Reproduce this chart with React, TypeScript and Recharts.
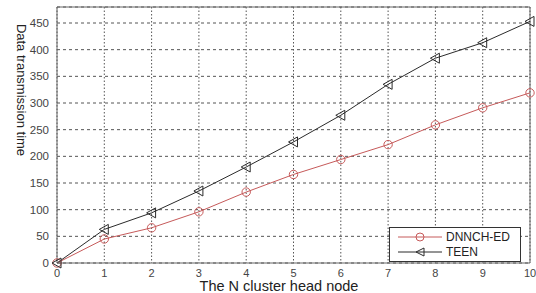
import { LineChart, Line, XAxis, YAxis, CartesianGrid, ReferenceLine } from 'recharts';

const nodes = [0, 1, 2, 3, 4, 5, 6, 7, 8, 9, 10];
const dnnchEd = [0, 45, 66, 96, 133, 166, 194, 222, 259, 291, 319];
const teen = [0, 63, 94, 135, 180, 227, 277, 335, 384, 413, 453];
const xTicks = [0, 1, 2, 3, 4, 5, 6, 7, 8, 9, 10];
const yTicks = [0, 50, 100, 150, 200, 250, 300, 350, 400, 450];

const RED = '#c65a5a';
const DARK = '#2b2b2b';
const FONT = '"Liberation Sans", Arial, sans-serif';

const data = nodes.map((n, i) => ({ n, dnnch: dnnchEd[i], teen: teen[i] }));

const CircleDot = (props: any) => {
  const { cx, cy } = props;
  if (cx == null || cy == null) return null;
  return <circle cx={cx} cy={cy} r={4.2} fill="none" stroke={RED} strokeWidth={1} />;
};

const TriDot = (props: any) => {
  const { cx, cy } = props;
  if (cx == null || cy == null) return null;
  const s = 5;
  return (
    <polygon
      points={`${cx - s},${cy} ${cx + s * 0.8},${cy - s} ${cx + s * 0.8},${cy + s}`}
      fill="none"
      stroke={DARK}
      strokeWidth={1}
    />
  );
};

// legend drawn as an overlay so it doesn't eat plot height
const LegendBox = () => (
  <div
    style={{
      position: 'absolute',
      left: 389,
      top: 227,
      width: 132,
      height: 35,
      border: '1px solid #333',
      background: '#fff',
      boxSizing: 'border-box',
    }}
  >
    <svg width={130} height={33} style={{ display: 'block' }}>
      <line x1={8} y1={9} x2={52} y2={9} stroke={RED} strokeWidth={1} />
      <circle cx={30} cy={9} r={4} fill="none" stroke={RED} />
      <text x={56} y={13} fontFamily={FONT} fontSize={12} fill="#222">DNNCH-ED</text>
      <line x1={8} y1={24} x2={52} y2={24} stroke={DARK} strokeWidth={1} />
      <polygon points="26,24 34,20 34,28" fill="none" stroke={DARK} />
      <text x={56} y={28} fontFamily={FONT} fontSize={12} fill="#222">TEEN</text>
    </svg>
  </div>
);

export default function App() {
  return (
    <div style={{ position: 'fixed', left: 0, top: 0, width: 536, height: 293, background: '#fff' }}>
      <LineChart width={536} height={293} data={data} margin={{ top: 7, right: 6, left: 0, bottom: 0 }}>
        <CartesianGrid horizontal={true} vertical={false} stroke="#555" strokeDasharray="3 3" />
        <CartesianGrid horizontal={false} vertical={true} stroke="#555" strokeDasharray="1.5 2" />
        <XAxis
          dataKey="n"
          type="number"
          domain={[0, 10]}
          ticks={xTicks}
          tickLine={false}
          axisLine={{ stroke: '#666' }}
          height={30}
          tickMargin={0}
          tick={{ fontFamily: FONT, fontSize: 11, fill: '#444' }}
          label={{
            content: () => (
              <text x={279} y={291} textAnchor="middle" fontFamily={FONT} fontSize={14.5} fill="#222">
                The N cluster head node
              </text>
            ),
          }}
        />
        <YAxis
          type="number"
          domain={[0, 480]}
          ticks={yTicks}
          tickLine={false}
          axisLine={{ stroke: '#666' }}
          width={57}
          tickMargin={2}
          tick={{ fontFamily: FONT, fontSize: 11.5, fill: '#444' }}
          label={{
            content: () => (
              <text
                x={21}
                y={90}
                transform="rotate(90, 21, 90)"
                textAnchor="middle"
                dominantBaseline="central"
                fontFamily={FONT}
                fontSize={13}
                fill="#222"
              >
                Data transmission time
              </text>
            ),
          }}
        />
        <ReferenceLine x={10} stroke="#666" />
        <ReferenceLine y={480} stroke="#666" />
        <Line
          dataKey="dnnch"
          name="DNNCH-ED"
          stroke={RED}
          strokeWidth={1}
          dot={<CircleDot />}
          activeDot={false}
          isAnimationActive={false}
        />
        <Line
          dataKey="teen"
          name="TEEN"
          stroke={DARK}
          strokeWidth={1}
          dot={<TriDot />}
          activeDot={false}
          isAnimationActive={false}
        />
      </LineChart>
      <LegendBox />
    </div>
  );
}
